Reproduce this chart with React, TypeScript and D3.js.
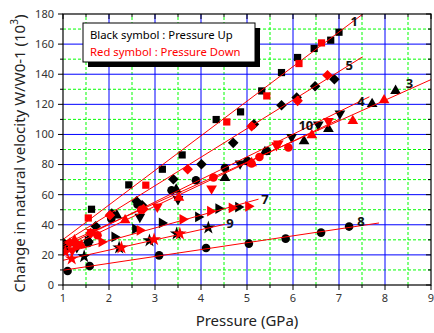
import React from 'react';
import * as d3 from 'd3';

type Pt = [number, number];

const xTicks = [1, 2, 3, 4, 5, 6, 7, 8, 9];
const yTicks = [0, 20, 40, 60, 80, 100, 120, 140, 160, 180];

// series 1 : squares
const s1Up: Pt[] = [[1.03, 27.5], [1.62, 50.3], [2.43, 66.5], [3.16, 76.9], [3.59, 86.4], [4.33, 109.9], [4.86, 115], [5.32, 128.9], [5.75, 141.1], [6.1, 151.1], [6.46, 157.1], [6.82, 162.6], [7.0, 167.9]];
const s1Down: Pt[] = [[1.55, 44.5], [2.8, 66.3], [4.56, 108.3], [5.43, 125.6], [6.13, 147.1], [6.62, 160.8]];
// series 5 : diamonds
const s5Up: Pt[] = [[1.0, 28], [1.71, 39], [2.06, 47.4], [2.6, 55.6], [2.72, 53], [3.4, 70.2], [4.01, 80.2], [4.7, 94.4], [5.15, 106.8], [5.75, 119.4], [6.08, 124.5], [6.48, 132], [6.9, 136.7]];
const s5Down: Pt[] = [[1.15, 28], [1.6, 34.5], [2.02, 46.3], [2.75, 50.5], [3.71, 76.9], [5.1, 105.4], [6.1, 122.3], [6.75, 139.3]];
// series 3 : up triangles
const s3Up: Pt[] = [[1.0, 27], [1.55, 30], [2.17, 46.3], [3.46, 63.4], [4.52, 71.1], [5.39, 88.4], [6.24, 95.5], [6.77, 103.7], [7.72, 120.3], [8.23, 129]];
const s3Down: Pt[] = [[1.25, 29.7], [1.4, 26.4], [2.35, 43], [3.52, 58], [5.1, 81], [6.41, 99.5], [7.3, 109], [7.98, 122.7]];
// series 4 : circles
const s4Up: Pt[] = [[1.55, 28], [2.05, 44], [2.62, 53.5], [3.36, 62.9], [3.89, 69.6], [4.52, 77.7], [5.01, 82.4], [5.43, 89]];
const s4Down: Pt[] = [[1.3, 27], [1.75, 33], [2.7, 50], [4.27, 71.4], [5.1, 80.7], [5.27, 85], [5.9, 91.3]];
// series 10 : down triangles
const s10Up: Pt[] = [[1.3, 25], [2.67, 45.2], [3.5, 57], [4.85, 80.7], [5.97, 98.3], [6.55, 106.6], [7.02, 113.9]];
const s10Down: Pt[] = [[1.2, 23], [1.62, 35.2], [3.05, 52], [4.23, 64], [5.64, 92.8], [5.68, 94], [6.77, 108.8]];
// series 7 : right triangles
const s7Up: Pt[] = [[1.03, 24], [1.54, 29.2], [2.12, 31.9], [2.57, 37.2], [3.15, 41.2], [3.94, 45.2], [4.38, 50.8], [4.81, 51.8]];
const s7Down: Pt[] = [[1.28, 25.2], [1.84, 28.6], [2.67, 36.3], [3.6, 43.6], [4.2, 49], [4.67, 51.2], [5.03, 52.3]];
// series 9 : stars
const s9Up: Pt[] = [[1.46, 19], [2.22, 24.8], [2.88, 29.5], [3.47, 34.1], [4.16, 38.1]];
const s9Down: Pt[] = [[1.05, 21.9], [1.19, 17.5], [2.27, 24.8], [2.98, 30.2], [3.54, 34.1]];
// series 8 : circles (up only)
const s8Up: Pt[] = [[1.1, 9.3], [1.58, 12.6], [3.09, 19.7], [4.11, 24.6], [5.04, 27.5], [5.84, 30.8], [6.61, 34.8], [7.22, 38.8]];
const s8Down: Pt[] = [];

// linear fits, end points
const fit1: Pt[] = [[1, 30.2], [7.52, 180]];
const fit5: Pt[] = [[1, 28], [7.51, 151.5]];
const fit3: Pt[] = [[1, 26.8], [9.02, 136.7]];
const fit4: Pt[] = [[1, 25.2], [7.66, 125]];
const fit10: Pt[] = [[1, 23.5], [7.0, 110]];
const fit7: Pt[] = [[1, 20.9], [5.25, 57]];
const fit9: Pt[] = [[1, 16.4], [4.52, 40.3]];
const fit8: Pt[] = [[1, 9.8], [7.87, 41.2]];

const seriesNames = ['1', '5', '3', '4', '10', '7', '9', '8'];
const labelPos: Pt[] = [[7.33, 174.8], [7.22, 145.5], [8.53, 133.8], [7.48, 122], [6.28, 106.1], [5.39, 56.7], [4.63, 41.2], [7.48, 42.3]];

const series = [
  { shape: 'square', up: s1Up, down: s1Down, fit: fit1 },
  { shape: 'diamond', up: s5Up, down: s5Down, fit: fit5 },
  { shape: 'triUp', up: s3Up, down: s3Down, fit: fit3 },
  { shape: 'circle', up: s4Up, down: s4Down, fit: fit4 },
  { shape: 'triDown', up: s10Up, down: s10Down, fit: fit10 },
  { shape: 'triRight', up: s7Up, down: s7Down, fit: fit7 },
  { shape: 'star', up: s9Up, down: s9Down, fit: fit9 },
  { shape: 'circle', up: s8Up, down: s8Down, fit: fit8 },
];

const W = 434;
const H = 333;
const margin = { top: 14, right: 3, bottom: 48, left: 63 };
const FONT = '"Noto Sans", "DejaVu Sans", sans-serif';

const x = d3.scaleLinear().domain([1, 9]).range([margin.left, W - margin.right]);
const y = d3.scaleLinear().domain([0, 180]).range([H - margin.bottom, margin.top]);

function symbolPath(shape: string) {
  switch (shape) {
    case 'square': return { d: d3.symbol().type(d3.symbolSquare).size(52)()!, rot: 0 };
    case 'diamond': return { d: d3.symbol().type(d3.symbolSquare).size(56)()!, rot: 45 };
    case 'triUp': return { d: d3.symbol().type(d3.symbolTriangle).size(50)()!, rot: 0 };
    case 'triDown': return { d: d3.symbol().type(d3.symbolTriangle).size(50)()!, rot: 180 };
    case 'triRight': return { d: d3.symbol().type(d3.symbolTriangle).size(50)()!, rot: 90 };
    case 'star': return { d: d3.symbol().type(d3.symbolStar).size(58)()!, rot: 0 };
    default: return { d: d3.symbol().type(d3.symbolCircle).size(58)()!, rot: 0 };
  }
}

export default function App() {
  const x0 = x.range()[0], x1 = x.range()[1];
  const y0 = y.range()[0], y1 = y.range()[1];
  const xMinor = d3.range(1.5, 9, 1);
  const yMinor = d3.range(10, 180, 20);
  const line = d3.line<Pt>().x(d => x(d[0])).y(d => y(d[1]));

  const marks = (color: string, key: 'up' | 'down') =>
    series.map((s, i) => {
      const sym = symbolPath(s.shape);
      return (
        <g key={key + i}>
          {s[key].map((p, j) => (
            <path key={j} d={sym.d} fill={color}
              transform={`translate(${x(p[0])},${y(p[1])}) rotate(${sym.rot})`} />
          ))}
        </g>
      );
    });

  return (
    <svg width={W} height={H} style={{ position: 'absolute', left: 0, top: 0, background: '#fff' }}>
      <defs>
        <clipPath id="plot">
          <rect x={x0} y={y1} width={x1 - x0} height={y0 - y1} />
        </clipPath>
      </defs>

      {/* grid */}
      {xMinor.map(v => (
        <line key={'xm' + v} x1={x(v)} x2={x(v)} y1={y0} y2={y1} stroke="#00ff00" strokeDasharray="3,2" />
      ))}
      {yMinor.map(v => (
        <line key={'ym' + v} x1={x0} x2={x1} y1={y(v)} y2={y(v)} stroke="#00ff00" strokeDasharray="3,2" />
      ))}
      {xTicks.slice(1, -1).map(v => (
        <line key={'xg' + v} x1={x(v)} x2={x(v)} y1={y0} y2={y1} stroke="#0000ff" />
      ))}
      {yTicks.slice(1, -1).map(v => (
        <line key={'yg' + v} x1={x0} x2={x1} y1={y(v)} y2={y(v)} stroke="#0000ff" />
      ))}

      {/* points and fits */}
      <g clipPath="url(#plot)">
        {marks('#000', 'up')}
        {marks('#ff0000', 'down')}
        {series.map((s, i) => (
          <path key={'f' + i} d={line(s.fit)!} fill="none" stroke="#ff0000" strokeWidth={1} />
        ))}
      </g>

      {/* series labels */}
      {seriesNames.map((n, i) => (
        <text key={'l' + i} x={x(labelPos[i][0])} y={y(labelPos[i][1])} dy="0.35em" textAnchor="middle"
          fontFamily={FONT} fontWeight="bold" fontSize={13} fill="#111">{n}</text>
      ))}

      {/* legend */}
      <rect x={88} y={28} width={172} height={39} fill="#000" />
      <rect x={83} y={23} width={172} height={39} fill="#fff" stroke="#000" strokeWidth={1} />
      <text x={90} y={38.5} fontFamily={FONT} fontSize={11.3} fill="#000">Black symbol : Pressure Up</text>
      <text x={90} y={56} fontFamily={FONT} fontSize={11.3} fill="#ff0000">Red symbol : Pressure Down</text>

      {/* frame */}
      <rect x={x0} y={y1} width={x1 - x0} height={y0 - y1} fill="none" stroke="#000" strokeWidth={1.2} />

      {/* x axis ticks */}
      {xTicks.map(v => (
        <g key={'xt' + v}>
          <line x1={x(v)} x2={x(v)} y1={y0} y2={y0 + 5} stroke="#000" />
          <line x1={x(v)} x2={x(v)} y1={y1} y2={y1 + 5} stroke="#000" />
          <text x={x(v)} y={y0 + 17} textAnchor="middle" fontFamily={FONT} fontSize={11} fill="#333">{v}</text>
        </g>
      ))}
      {xMinor.map(v => (
        <g key={'xmt' + v}>
          <line x1={x(v)} x2={x(v)} y1={y0} y2={y0 + 3} stroke="#000" />
          <line x1={x(v)} x2={x(v)} y1={y1} y2={y1 + 3} stroke="#000" />
        </g>
      ))}

      {/* y axis ticks */}
      {yTicks.map(v => (
        <g key={'yt' + v}>
          <line x1={x0 - 5} x2={x0} y1={y(v)} y2={y(v)} stroke="#000" />
          <line x1={x1 - 5} x2={x1} y1={y(v)} y2={y(v)} stroke="#000" />
          <text x={x0 - 9} y={y(v)} dy="0.35em" textAnchor="end" fontFamily={FONT} fontSize={11} fill="#333">{v}</text>
        </g>
      ))}
      {yMinor.map(v => (
        <g key={'ymt' + v}>
          <line x1={x0 - 3} x2={x0} y1={y(v)} y2={y(v)} stroke="#000" />
          <line x1={x1 - 3} x2={x1} y1={y(v)} y2={y(v)} stroke="#000" />
        </g>
      ))}

      {/* axis titles */}
      <text x={(x0 + x1) / 2} y={326} textAnchor="middle" fontFamily={FONT} fontSize={15} fill="#222">Pressure (GPa)</text>
      <text transform={`translate(25,${(y0 + y1) / 2 + 4}) rotate(-90)`} textAnchor="middle" fontFamily={FONT} fontSize={15} fill="#222">
        Change in natural velocity W/W0-1 (10<tspan dy={-7} fontSize={10}>3</tspan><tspan dy={7}>)</tspan>
      </text>
    </svg>
  );
}
